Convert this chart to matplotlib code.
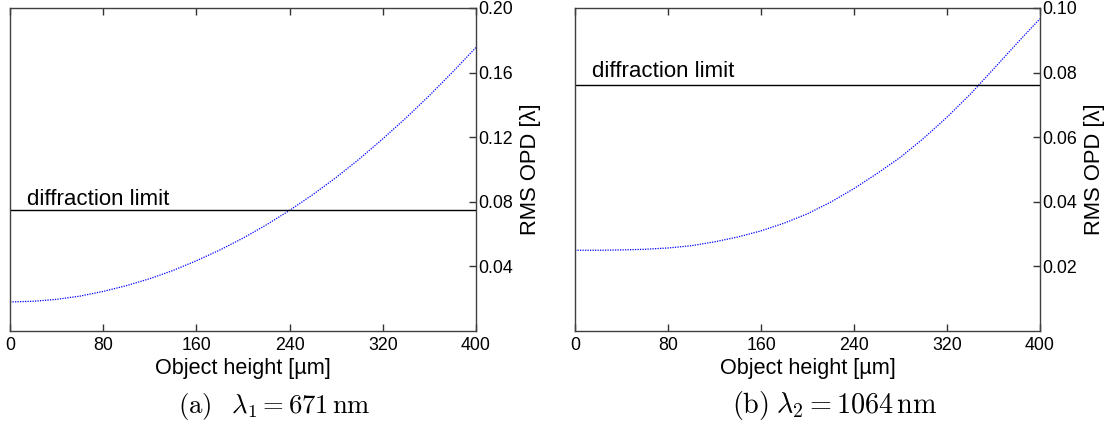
import numpy as np
import matplotlib
matplotlib.use("Agg")
import matplotlib.pyplot as plt

plt.rcParams['font.family'] = ['Liberation Sans', 'DejaVu Sans']
plt.rcParams['mathtext.fontset'] = 'cm'

# object height [um]
height = [0, 20, 40, 60, 80, 100, 120, 140, 160, 180, 200,
          220, 240, 260, 280, 300, 320, 340, 360, 380, 400]

# RMS OPD [lambda]
opd_671 = [0.0180, 0.0184, 0.0196, 0.0216, 0.0245, 0.0281, 0.0324, 0.0375,
           0.0435, 0.0501, 0.0575, 0.0657, 0.0747, 0.0845, 0.0951, 0.1066,
           0.1190, 0.1320, 0.1458, 0.1604, 0.1756]
opd_1064 = [0.0250, 0.0250, 0.0251, 0.0253, 0.0257, 0.0264, 0.0276, 0.0291,
            0.0310, 0.0334, 0.0363, 0.0399, 0.0441, 0.0488, 0.0538, 0.0597,
            0.0662, 0.0733, 0.0811, 0.0890, 0.0967]

diff_limit = [0.0747, 0.0762]
ylims = [0.20, 0.10]
yticks = [[0.04, 0.08, 0.12, 0.16, 0.20], [0.02, 0.04, 0.06, 0.08, 0.10]]
xticks = [0, 80, 160, 240, 320, 400]
captions = [r'$\mathrm{(a)}\;\;\;\lambda_1 = 671\,\mathrm{nm}$',
            r'$\mathrm{(b)}\;\lambda_2 = 1064\,\mathrm{nm}$']

W, H = 1114, 423
fig = plt.figure(figsize=(W / 100, H / 100), dpi=100)

boxes = [(10, 476), (575, 1040)]
top, bot = 8, 331
text_off = [3.5, 6.0]
cap_x = [274, 835]
cap_w = [193, 206]

renderer = fig.canvas.get_renderer()

for i, (x0, x1) in enumerate(boxes):
    ax = fig.add_axes([x0 / W, 1 - bot / H, (x1 - x0) / W, (bot - top) / H])
    opd = [opd_671, opd_1064][i]
    ax.plot(height, opd, color='blue', lw=0.9, ls=(0, (1, 1)))
    ax.axhline(diff_limit[i], color='black', lw=1.0)
    ax.annotate('diffraction limit', (15, diff_limit[i]), xytext=(0, text_off[i]),
                textcoords='offset points', fontsize=16, va='baseline')
    ax.set_xlim(0, 400)
    ax.set_ylim(0, ylims[i])
    ax.set_xticks(xticks)
    ax.set_yticks(yticks[i])
    ax.set_yticklabels(['%.2f' % v for v in yticks[i]])
    ax.yaxis.tick_right()
    ax.yaxis.set_label_position('right')
    ax.tick_params(axis='x', direction='in', top=True, bottom=True, length=5,
                   width=1, labelsize=12.8, pad=4, color='#333333')
    ax.tick_params(axis='y', direction='in', right=True, left=False, length=5,
                   width=1, labelsize=12.8, pad=1.5, color='#333333')
    for s in ax.spines.values():
        s.set_color('#404040')
        s.set_linewidth(1.0)
    ax.set_xlabel('Object height [µm]', fontsize=15.6, labelpad=3.5)
    ax.set_ylabel('RMS OPD [λ]', fontsize=15.8, labelpad=5)

    cap = fig.text(cap_x[i] / W, 1 - 413 / H, captions[i], fontsize=18,
                   ha='center', va='baseline')
    # scale the caption so its width matches the picture
    w = cap.get_window_extent(renderer).width
    cap.set_fontsize(18 * cap_w[i] / w)

fig.savefig('out.png', dpi=100)
